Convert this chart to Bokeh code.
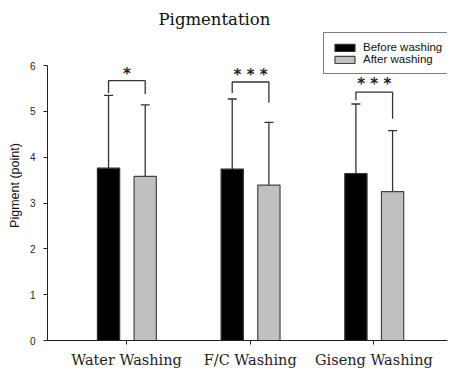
from bokeh.plotting import figure
from bokeh.models import (Range1d, FixedTicker, ColumnDataSource, Legend, LegendItem,
                          Title, Whisker, TeeHead)
from bokeh.embed import file_html
from bokeh.resources import INLINE
from bokeh.core.properties import value

# ---- data ----
groups = ["Water Washing", "F/C Washing", "Giseng Washing"]
before = [3.76, 3.74, 3.64]          # Before washing means
after = [3.58, 3.39, 3.25]           # After washing means
before_err = [1.59, 1.53, 1.52]      # upper error (SD)
after_err = [1.56, 1.37, 1.33]
sig_labels = ["*", "* * *", "* * *"]
bracket_y = [5.67, 5.64, 5.42]
bracket_left_end = [5.40, 5.40, 5.24]
bracket_right_end = [5.38, 5.19, 4.84]
star_y = [5.82, 5.80, 5.59]
y_ticks = [0, 1, 2, 3, 4, 5, 6]

# ---- layout constants ----
pos = [1, 2, 3]
off_b, off_a = -0.1455, 0.151
bar_w = 0.18

W, H = 451, 371
B_LEFT, B_RIGHT, B_TOP, B_BOTTOM = 47, 4, 30, 31
px_per_unit = 45.83
ymax = (H - B_TOP - B_BOTTOM) / px_per_unit

p = figure(width=W, height=H, output_backend="svg", toolbar_location=None,
           x_range=Range1d(0.361, 3.595), y_range=Range1d(0, ymax),
           min_border_left=B_LEFT, min_border_right=B_RIGHT,
           min_border_bottom=B_BOTTOM, min_border_top=B_TOP)
p.title = Title(text="Pigmentation", text_font="DejaVu Serif",
                text_font_size="16.5px", text_font_style="normal",
                text_color="#111111", align="left", offset=111, standoff=4)
p.outline_line_color = None
p.grid.visible = False
p.background_fill_color = "white"
p.border_fill_color = "white"

xb = [x + off_b for x in pos]
xa = [x + off_a for x in pos]
src_b = ColumnDataSource(dict(x=xb, top=before, up=[v + e for v, e in zip(before, before_err)]))
src_a = ColumnDataSource(dict(x=xa, top=after, up=[v + e for v, e in zip(after, after_err)]))

rb = p.vbar(x="x", top="top", bottom=0, width=bar_w, source=src_b, fill_color="black",
            line_color="#333333", line_width=1.2)
ra = p.vbar(x="x", top="top", bottom=0, width=bar_w, source=src_a, fill_color="#c0c0c0",
            line_color="#444444", line_width=1.2)

for src in (src_b, src_a):
    w = Whisker(base="x", lower="top", upper="up", source=src, dimension="height",
                line_color="#333333", line_width=1.3,
                upper_head=TeeHead(size=9, line_color="#333333", line_width=1.3),
                lower_head=None)
    p.add_layout(w)

# significance brackets
xs = [[b, b, a, a] for b, a in zip(xb, xa)]
ys = [[l, y, y, r] for l, y, r in zip(bracket_left_end, bracket_y, bracket_right_end)]
p.multi_line(xs=xs, ys=ys, line_color="#333333", line_width=1.3)

p.text(x=[(b + a) / 2 for b, a in zip(xb, xa)], y=star_y, text=sig_labels,
       text_align="center", text_baseline="middle", text_font=value("DejaVu Sans"),
       text_font_size="15px", text_font_style="bold", text_color="#222222")

# axes
p.yaxis.ticker = FixedTicker(ticks=y_ticks)
p.yaxis.bounds = (0, 6)
p.yaxis.axis_label = "Pigment (point)"
p.yaxis.axis_label_text_font = "Liberation Sans"
p.yaxis.axis_label_text_font_size = "12.5px"
p.yaxis.axis_label_text_font_style = "normal"
p.yaxis.axis_label_text_color = "#111111"
p.yaxis.axis_label_standoff = 5
p.yaxis.major_label_text_font = "Liberation Sans"
p.yaxis.major_label_text_font_size = "10px"
p.yaxis.major_label_text_color = "#222222"
p.yaxis.major_label_standoff = 8
p.yaxis.major_tick_out = 4
p.yaxis.major_tick_in = 0
p.yaxis.minor_tick_line_color = None
p.yaxis.axis_line_color = "#222222"
p.yaxis.major_tick_line_color = "#222222"

p.xaxis.axis_label = None
p.xaxis.ticker = FixedTicker(ticks=pos)
p.xaxis.major_label_overrides = {x: g for x, g in zip(pos, groups)}
p.xaxis.major_label_text_font = "DejaVu Serif"
p.xaxis.major_label_text_font_size = "14.5px"
p.xaxis.major_label_text_color = "#222222"
p.xaxis.major_label_standoff = 7
p.xaxis.major_tick_out = 4
p.xaxis.major_tick_in = 0
p.xaxis.minor_tick_line_color = None
p.xaxis.axis_line_color = "#222222"
p.xaxis.major_tick_line_color = "#222222"

legend = Legend(items=[LegendItem(label="Before washing", renderers=[rb]),
                       LegendItem(label="After washing", renderers=[ra])],
                location=(276, 266), margin=0, padding=8, spacing=0,
                glyph_width=25, glyph_height=9, label_height=12, label_standoff=6,
                label_text_font="Liberation Sans", label_text_font_size="11.5px",
                label_text_color="#111111",
                border_line_color="black", border_line_width=1.2,
                background_fill_color="white", background_fill_alpha=1)
p.add_layout(legend)

open("out.html", "w").write(file_html(p, INLINE))
